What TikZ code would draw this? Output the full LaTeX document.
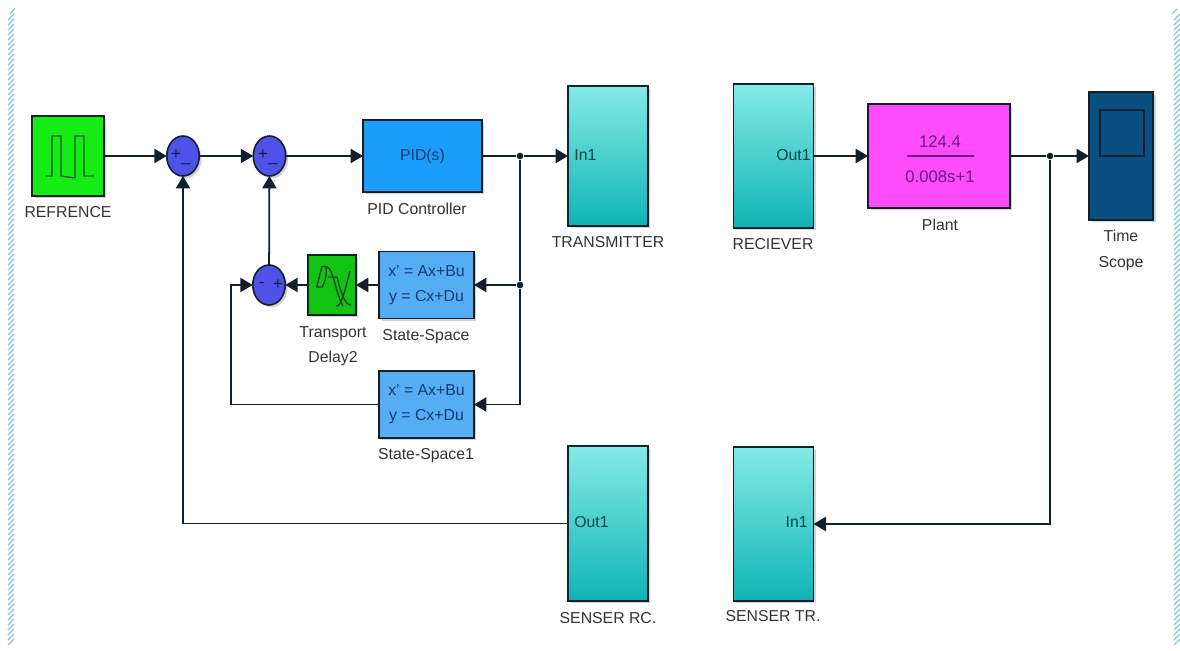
\documentclass[tikz,border=0pt]{standalone}
\usepackage{fontspec}
\setmainfont{Liberation Sans}
\usetikzlibrary{arrows.meta,shapes.geometric,shadows}
\definecolor{edgedark}{HTML}{10202C}
\definecolor{labelgray}{HTML}{333333}
\definecolor{boxtext}{HTML}{143A6C}
\definecolor{planttext}{HTML}{661A86}
\definecolor{pulsegreen}{HTML}{14EC14}
\definecolor{delaygreen}{HTML}{12C412}
\definecolor{sumblue}{HTML}{4F52E8}
\definecolor{pidblue}{HTML}{1A9CFA}
\definecolor{ssblue}{HTML}{55AEF4}
\definecolor{tealtop}{HTML}{84EAE6}
\definecolor{tealbot}{HTML}{0FB4B6}
\definecolor{plantpink}{HTML}{FF4CFA}
\definecolor{scopeblue}{HTML}{0A4F82}
\definecolor{stripblue}{HTML}{7CCBE2}
\begin{document}
\begin{tikzpicture}[
  x=.02cm, y=-.02cm,
  block/.style={draw=edgedark, line width=.9pt, inner sep=0pt, outer sep=0pt,
                drop shadow={shadow xshift=.05cm, shadow yshift=-.05cm, opacity=.35}},
  subsys/.style={block, top color=tealtop, bottom color=tealbot, minimum width=1.6cm},
  statebox/.style={block, fill=ssblue, minimum width=1.9cm, minimum height=1.34cm,
                   align=center, font=\fontsize{9}{14}\selectfont, text=boxtext},
  sum/.style={block, ellipse, fill=sumblue, minimum width=.65cm, minimum height=.8cm},
  sign/.style={font=\fontsize{9.5}{9.5}\selectfont, text=edgedark, inner sep=0pt},
  port/.style={font=\fontsize{9}{9}\selectfont, text=black!45!teal, inner sep=0pt},
  caption/.style={font=\fontsize{9}{14.5}\selectfont, text=labelgray, align=center, inner sep=0pt},
  arrow/.style={-{Triangle[length=7pt,width=8pt]}, line width=1pt, color=edgedark},
  wire/.style={line width=1pt, color=edgedark},
  icon/.style={line width=.8pt, color=edgedark!75!delaygreen},
  junction/.style={circle, fill=edgedark, inner sep=0pt, minimum size=3.8pt},
  hatch/.style={line width=.7pt, color=stripblue}
]
  \useasboundingbox (0,0) rectangle (1180,651);

  % side strips
  \foreach \ypos in {14,19,...,642} {
    \draw[hatch] (8,\ypos+6) -- (14,\ypos);
    \draw[hatch] (1174,\ypos+6) -- (1180,\ypos);
  }
  \draw[hatch] (10,14) -- (15,8);
  \draw[hatch] (1172,14) -- (1177,9);

  % top row
  \node[block, fill=pulsegreen, minimum width=1.44cm, minimum height=1.6cm] (ref) at (68,156) {};
  \node[sum] (sum1) at (183,156) {};
  \node[sum] (sum2) at (269.5,156) {};
  \node[block, fill=pidblue, minimum width=2.38cm, minimum height=1.44cm,
        font=\fontsize{9}{9}\selectfont, text=boxtext] (pid) at (422.5,156) {PID(s)};
  \node[subsys, minimum height=2.8cm] (tx) at (608,156) {};
  \node[subsys, minimum height=2.88cm] (rx) at (773.5,156) {};
  \node[block, fill=plantpink, minimum width=2.84cm, minimum height=2.08cm] (plant) at (939,156) {};
  \node[block, fill=scopeblue, minimum width=1.28cm, minimum height=2.56cm] (scope) at (1121,156) {};
  \node[draw=edgedark, line width=.8pt, minimum width=.88cm, minimum height=.92cm,
        inner sep=0pt] (screen) at (1122,133) {};

  % inner loop
  \node[sum] (sum3) at (269,285) {};
  \node[block, fill=delaygreen, minimum width=.96cm, minimum height=1.2cm] (delay) at (332,285) {};
  \node[statebox] (ss) at (426.5,285) {x' = Ax+Bu\\y = Cx+Du};
  \node[statebox] (ss1) at (426.5,404.5) {x' = Ax+Bu\\y = Cx+Du};

  % bottom row
  \node[subsys, minimum height=3.1cm] (rc) at (608,523.5) {};
  \node[subsys, minimum height=3.08cm] (tr) at (773.5,524) {};

  % signs and ports
  \node[sign] (s1p) at (176,155) {+};
  \node[sign] (s1m) at (186,163) {\_};
  \node[sign] (s2p) at (263,155) {+};
  \node[sign] (s2m) at (273,163) {\_};
  \node[sign] (s3m) at (262,285) {-};
  \node[sign] (s3p) at (278,285) {+};
  \node[port, anchor=west] (txin) at (574,155) {In1};
  \node[port, anchor=east] (rxout) at (811,155) {Out1};
  \node[port, anchor=west] (rcout) at (574,522) {Out1};
  \node[port, anchor=east] (trin) at (808,522) {In1};

  % plant text
  \node[font=\fontsize{9.5}{9.5}\selectfont, text=planttext, inner sep=0pt] (pnum) at (940,142) {124.4};
  \node[font=\fontsize{9.5}{9.5}\selectfont, text=planttext, inner sep=0pt] (pden) at (940,177) {0.008s+1};
  \draw[line width=1pt, color=planttext] (907,156) -- (974,156);

  % icons
  \draw[line width=.7pt, color=edgedark!75!pulsegreen]
    (45,176) -- (52,176) -- (52,136) -- (61,136) -- (61,176) -- (75,178) -- (75,136)
    -- (84,136) -- (84,176) -- (94,176);
  \draw[icon] (316.7,287) -- (322,266.5) -- (326,266.5) .. controls (327,276) and (325,282) .. (322,287) -- cycle;
  \draw[icon] (326,266.5) .. controls (333,266) and (336,295) .. (343,306);
  \draw[icon] (336,306) .. controls (341,308) and (345,290) .. (350,271);
  \draw[icon] (328,277) -- (337,277) .. controls (340,290) and (345,306) .. (351,305);

  % captions
  \node[caption] (capref) at (68,212) {REFRENCE};
  \node[caption] (cappid) at (417,209) {PID Controller};
  \node[caption] (captx) at (608,242.5) {TRANSMITTER};
  \node[caption] (caprx) at (773,244.5) {RECIEVER};
  \node[caption] (capplant) at (940,225) {Plant};
  \node[caption] (capscope) at (1121,250.5) {Time\\Scope};
  \node[caption] (capdelay) at (333,346) {Transport\\Delay2};
  \node[caption] (capss) at (426,336.5) {State-Space};
  \node[caption] (capss1) at (426,455.5) {State-Space1};
  \node[caption] (caprc) at (608,618) {SENSER RC.};
  \node[caption] (captr) at (773,616) {SENSER TR.};

  % junctions
  \node[junction] (junpid) at (520,156) {};
  \node[junction] (junss) at (520,285) {};
  \node[junction] (junout) at (1050,156) {};
  \coordinate (bendleft) at (231,285);

  % connectors
  \draw[arrow] (ref) -- (sum1);
  \draw[arrow] (sum1) -- (sum2);
  \draw[arrow] (sum2) -- (pid);
  \draw[wire] (pid) -- (junpid);
  \draw[arrow] (junpid) -- (tx);
  \draw[wire] (junpid) -- (junss);
  \draw[arrow] (junss) -- (ss);
  \draw[arrow] (junss) |- (ss1);
  \draw[arrow] (ss) -- (delay);
  \draw[arrow] (delay) -- (sum3);
  \draw[arrow] (ss1) -| (bendleft) -- (sum3);
  \draw[arrow] (sum3) -- (sum2);
  \draw[arrow] (rx) -- (plant);
  \draw[wire] (plant) -- (junout);
  \draw[arrow] (junout) -- (scope);
  \draw[arrow] (junout) |- (tr);
  \draw[arrow] (rc) -| (sum1);
\end{tikzpicture}
\end{document}
